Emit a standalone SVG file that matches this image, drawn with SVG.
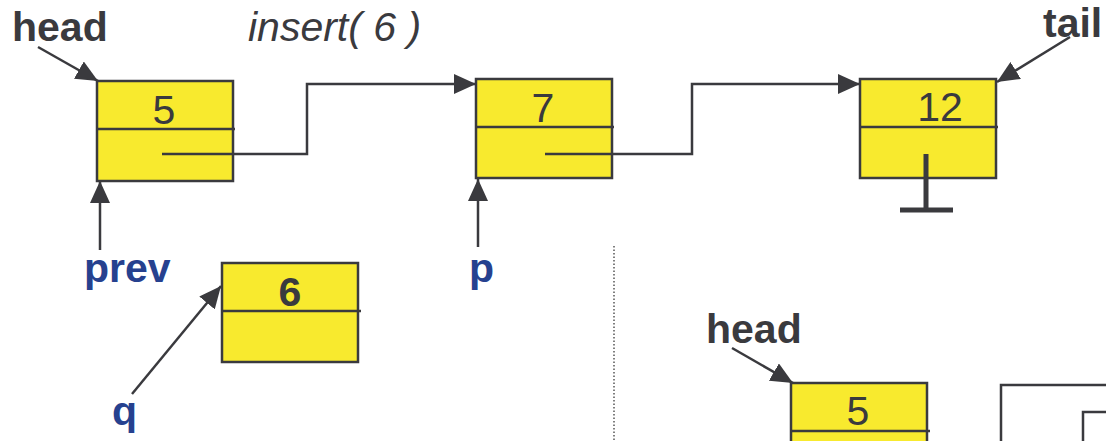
<svg xmlns="http://www.w3.org/2000/svg" width="1106" height="441" viewBox="0 0 1106 441">
<style>
.box{fill:#f8ea2e;stroke:#3a3a3e;stroke-width:2.5}
.div{stroke:#3a3a3e;stroke-width:2.5;fill:none}
.ln{stroke:#3a3a3e;stroke-width:2.5;fill:none}
.val{font-family:"Liberation Sans",Arial,sans-serif;font-size:41px;fill:#3a3a3e;text-anchor:middle}
.lbl{font-family:"Liberation Sans",Arial,sans-serif;font-size:41px;font-weight:bold;fill:#3a3a3e}
.ptr{font-family:"Liberation Sans",Arial,sans-serif;font-size:41px;font-weight:bold;fill:#26418f}
</style>
<defs>
<marker id="ah" viewBox="0 0 22 20" refX="22" refY="10" markerWidth="22" markerHeight="20" markerUnits="userSpaceOnUse" orient="auto">
<path d="M0,0 L22,10 L0,20 z" fill="#3a3a3e"/>
</marker>
</defs>
<rect width="1106" height="441" fill="#ffffff"/>
<text x="248" y="41" font-family="Liberation Sans,Arial,sans-serif" font-size="41" font-style="italic" fill="#3a3a3e">insert( 6 )</text>
<g id="node5">
<rect class="box" x="97" y="81" width="136" height="100"/>
<path class="div" d="M97,129 H235"/>
<text class="val" x="164" y="124">5</text>
</g>
<g id="node7">
<rect class="box" x="476" y="79" width="136" height="99"/>
<path class="div" d="M476,127 H614"/>
<text class="val" x="543" y="122">7</text>
</g>
<g id="node12">
<rect class="box" x="860" y="79" width="136" height="99"/>
<path class="div" d="M860,127 H998"/>
<text class="val" x="940" y="121">12</text>
<path d="M926,154 V210 M900,210 H953" stroke="#3a3a3e" stroke-width="5" fill="none"/>
</g>
<g id="node6">
<rect class="box" x="222" y="263" width="136" height="99"/>
<path class="div" d="M222,311 H361"/>
<text class="val" x="290" y="306" font-weight="bold">6</text>
</g>
<g id="node5b">
<rect class="box" x="791" y="383" width="136" height="70"/>
<path class="div" d="M791,431 H930"/>
<text class="val" x="858" y="425">5</text>
</g>
<g id="boxes-right">
<path class="ln" d="M1001,443 V385 H1108"/>
<path class="ln" d="M1083,443 V412 H1108"/>
</g>
<g id="labels">
<text class="lbl" x="12" y="41">head</text>
<text class="lbl" x="1043" y="37">tail</text>
<text class="lbl" x="706" y="343">head</text>
<text class="ptr" x="84" y="282">prev</text>
<text class="ptr" x="469" y="282">p</text>
<text class="ptr" x="112" y="425">q</text>
</g>
<g id="connectors">
<path class="ln" d="M162,154 H307 V84 H476" marker-end="url(#ah)"/>
<path class="ln" d="M545,154 H692 V84 H860" marker-end="url(#ah)"/>
<path class="ln" d="M38,47 L98,81" marker-end="url(#ah)"/>
<path class="ln" d="M1070,37 L997,82" marker-end="url(#ah)"/>
<path class="ln" d="M100,250 V181" marker-end="url(#ah)"/>
<path class="ln" d="M478,247 V179" marker-end="url(#ah)"/>
<path class="ln" d="M132,394 L221,286" marker-end="url(#ah)"/>
<path class="ln" d="M732,348 L793,383" marker-end="url(#ah)"/>
<path d="M614,246 V441" stroke="#555" stroke-width="1.5" stroke-dasharray="1.5,2" fill="none"/>
</g>
</svg>
